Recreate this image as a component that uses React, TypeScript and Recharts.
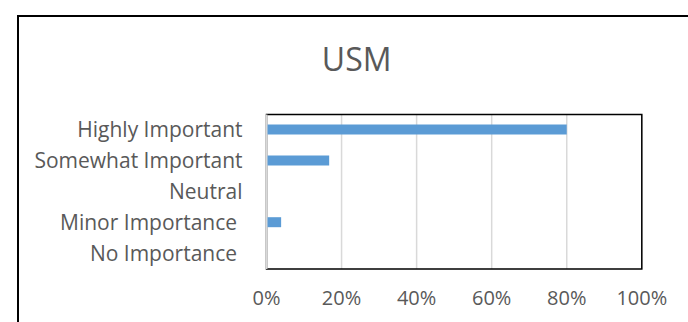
import {
  Bar,
  BarChart,
  CartesianGrid,
  ReferenceArea,
  XAxis,
  YAxis,
} from "recharts";

const title = "USM";
const categories = [
  "Highly Important",
  "Somewhat Important",
  "Neutral",
  "Minor Importance ",
  "No Importance ",
];
const shares = [80, 16.7, 0, 3.9, 0];
const percentTicks = [0, 20, 40, 60, 80, 100];

const data = categories.map((name, i) => ({ name, share: shares[i] }));

const textColor = "#595959";
const font = "'Open Sans', sans-serif";

const CategoryTick = ({ x, y, payload }: any) => (
  <text
    x={x}
    y={y}
    dy="0.355em"
    textAnchor="end"
    fill={textColor}
    fontSize={21}
    style={{ whiteSpace: "pre" }}
  >
    {payload.value}
  </text>
);

const App = () => {
  return (
    <div
      style={{
        position: "absolute",
        left: 0,
        top: 0,
        width: 688,
        height: 322,
        overflow: "hidden",
        background: "#fff",
        fontFamily: font,
      }}
    >
      {/* chart frame, only left and top edges are inside the picture */}
      <div
        style={{
          position: "absolute",
          left: 17,
          top: 15,
          width: 720,
          height: 400,
          borderLeft: "2px solid #000",
          borderTop: "2px solid #000",
        }}
      />
      <svg
        width={688}
        height={90}
        style={{ position: "absolute", left: 0, top: 0 }}
      >
        <text
          x={356.7}
          y={71}
          textAnchor="middle"
          fill={textColor}
          fontSize={32}
          fontFamily={font}
        >
          {title}
        </text>
      </svg>
      <div style={{ position: "absolute", left: 0, top: 0 }}>
        <BarChart
          width={688}
          height={322}
          data={data}
          layout="vertical"
          margin={{ top: 114.5, right: 46.2, bottom: 13, left: 16.5 }}
          style={{ fontFamily: font }}
        >
          <CartesianGrid
            horizontal={false}
            stroke="#D9D9D9"
            strokeWidth={1.5}
          />
          <ReferenceArea
            x1={0}
            x2={100}
            fill="none"
            fillOpacity={0}
            stroke="#000"
            strokeWidth={1.5}
          />
          <XAxis
            type="number"
            domain={[0, 100]}
            ticks={percentTicks}
            tickFormatter={(v) => `${v}%`}
            tick={{ fill: textColor, fontSize: 20 }}
            tickLine={false}
            tickMargin={16}
            height={40}
            axisLine={false}
          />
          <YAxis
            type="category"
            dataKey="name"
            width={250}
            tick={<CategoryTick />}
            tickLine={false}
            tickMargin={18}
            axisLine={{ stroke: "#D9D9D9", strokeWidth: 2 }}
          />
          <Bar
            dataKey="share"
            fill="#5B9BD5"
            barSize={10}
            isAnimationActive={false}
          />
        </BarChart>
      </div>
    </div>
  );
};

export default App;
